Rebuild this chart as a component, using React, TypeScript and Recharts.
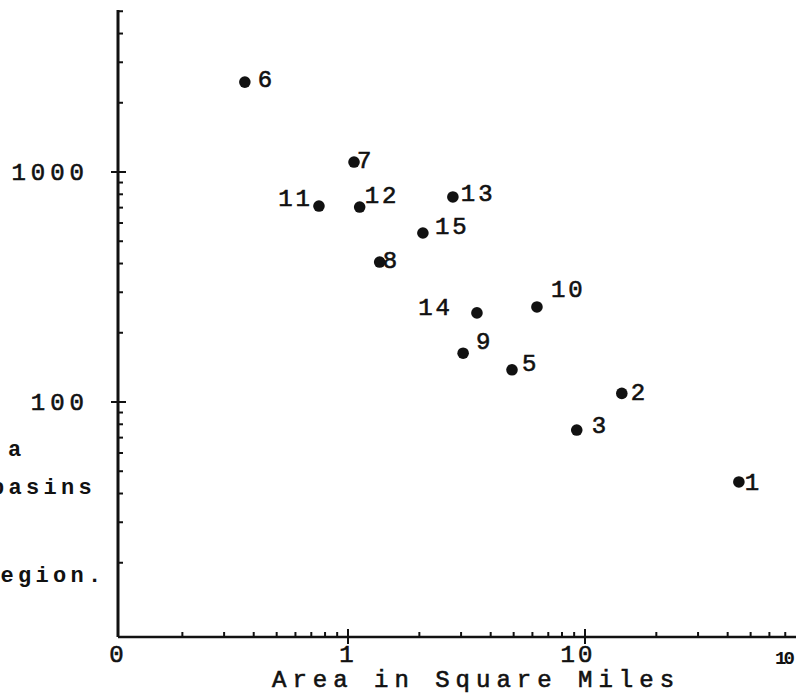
import React from 'react';
import { ScatterChart, Scatter, XAxis, YAxis } from 'recharts';

// basin numbers, drainage area (sq mi) and the plotted value
const basinIds = [1, 2, 3, 5, 6, 7, 8, 9, 10, 11, 12, 13, 14, 15];
const areaSqMi = [44.6, 14.3, 9.23, 4.92, 0.367, 1.06, 1.36, 3.06, 6.27, 0.754, 1.12, 2.77, 3.5, 2.07];
const peakValues = [44.9, 109, 75.5, 138, 2460, 1105, 406, 163, 259, 711, 704, 779, 244, 543];

const xTicks = [0.107, 0.2, 0.3, 0.4, 0.5, 0.6, 0.7, 0.8, 0.9, 1, 2, 3, 4, 5, 6, 7, 8, 9, 10, 20, 30, 40, 50, 60, 70];
const xTickLabels: Record<number, string> = { 0.107: '0', 1: '1', 10: '10' };
const yTicks = [20, 30, 40, 50, 60, 70, 80, 90, 100, 200, 300, 400, 500, 600, 700, 800, 900, 1000, 2000, 3000, 4000, 5000];
const yTickLabels: Record<number, string> = { 100: '100', 1000: '1000' };

const X_DOMAIN = [0.107, 77.7];
const Y_DOMAIN = [9.51, 5063];

// where each number sits next to its dot
const labelOffsets: Record<number, { dx: number; dy: number; anchor?: string }> = {
  1: { dx: 6, dy: 0 },
  2: { dx: 9, dy: -1 },
  3: { dx: 15, dy: -5 },
  5: { dx: 10, dy: -7 },
  6: { dx: 13, dy: -3 },
  7: { dx: 3, dy: -2 },
  8: { dx: 3, dy: -2 },
  9: { dx: 13, dy: -12 },
  10: { dx: 14, dy: -18 },
  11: { dx: -6, dy: -8, anchor: 'end' },
  12: { dx: 5, dy: -12 },
  13: { dx: 8, dy: -4 },
  14: { dx: -24, dy: -6, anchor: 'end' },
  15: { dx: 12, dy: -7 },
};

const ink = '#111';
const mono = '"Liberation Mono", "DejaVu Sans Mono", monospace';

const points = basinIds.map((id, i) => ({ id, area: areaSqMi[i], value: peakValues[i] }));

const XTick = (props: any) => {
  const { x, y, payload } = props;
  const v = payload.value;
  const label = xTickLabels[v];
  const major = v === 1 || v === 10;
  return (
    <g>
      {v !== X_DOMAIN[0] && (
        <line x1={x} x2={x} y1={y + (major ? 7 : 0)} y2={y - (major ? 8 : 5)} stroke={ink} strokeWidth={2} />
      )}
      {label && (
        <text
          x={x + (v === 10 ? -7 : 0)}
          y={y + 25}
          textAnchor="middle"
          fontFamily={mono}
          fontSize={24}
          letterSpacing={3}
          fill={ink}
          stroke={ink}
          strokeWidth={0.6}
        >
          {label}
        </text>
      )}
    </g>
  );
};

const YTick = (props: any) => {
  const { x, y, payload } = props;
  const v = payload.value;
  const label = yTickLabels[v];
  return (
    <g>
      <line x1={x - (label ? 7 : 0)} x2={x + (label ? 8 : 5)} y1={y} y2={y} stroke={ink} strokeWidth={2} />
      {label && (
        <text
          x={x - 29}
          y={y + 8}
          textAnchor="end"
          fontFamily={mono}
          fontSize={24}
          letterSpacing={5}
          fill={ink}
          stroke={ink}
          strokeWidth={0.6}
        >
          {label}
        </text>
      )}
    </g>
  );
};

const Dot = (props: any) => {
  const { cx, cy, payload } = props;
  const off = labelOffsets[payload.id] || { dx: 8, dy: 0 };
  return (
    <g>
      <circle cx={cx} cy={cy} r={5.8} fill={ink} />
      <text
        x={cx + off.dx}
        y={cy + off.dy + 8}
        textAnchor={off.anchor || 'start'}
        fontFamily={mono}
        fontSize={24}
        letterSpacing={3}
        fill={ink}
        stroke={ink}
        strokeWidth={0.6}
      >
        {payload.id}
      </text>
    </g>
  );
};

const sideText: React.CSSProperties = {
  position: 'absolute',
  fontFamily: mono,
  fontSize: 22,
  letterSpacing: 4.3,
  fontWeight: 'bold',
  color: ink,
  whiteSpace: 'nowrap',
  lineHeight: '22px',
};

export default function App() {
  return (
    <div style={{ position: 'absolute', left: 0, top: 0, width: 796, height: 696, background: '#fff', overflow: 'hidden' }}>
      <ScatterChart width={796} height={696} margin={{ top: 10, right: 0, bottom: 0, left: 0 }}>
        <XAxis
          type="number"
          dataKey="area"
          scale="log"
          domain={X_DOMAIN}
          allowDataOverflow
          ticks={xTicks}
          interval={0}
          tick={<XTick />}
          tickSize={0}
          tickMargin={0}
          tickLine={false}
          height={59}
          axisLine={{ stroke: ink, strokeWidth: 2.5 }}
        />
        <YAxis
          type="number"
          dataKey="value"
          scale="log"
          domain={Y_DOMAIN}
          allowDataOverflow
          ticks={yTicks}
          interval={0}
          tick={<YTick />}
          tickSize={0}
          tickMargin={0}
          tickLine={false}
          width={118}
          axisLine={{ stroke: ink, strokeWidth: 3 }}
        />
        <Scatter data={points} shape={<Dot />} isAnimationActive={false} />
      </ScatterChart>
      <div style={{ ...sideText, left: 8, top: 440 }}>a</div>
      <div style={{ ...sideText, left: -9, top: 478 }}>basins</div>
      <div style={{ ...sideText, left: -17, top: 566 }}>region.</div>
      <div
        style={{
          position: 'absolute',
          left: 272,
          top: 668,
          fontFamily: mono,
          fontSize: 24,
          letterSpacing: 6,
          color: ink,
          whiteSpace: 'nowrap',
          lineHeight: '26px',
          WebkitTextStroke: '0.6px #111',
        }}
      >
        Area in Square Miles
      </div>
      <div
        style={{
          position: 'absolute',
          left: 775,
          top: 648,
          fontFamily: mono,
          fontSize: 19,
          letterSpacing: -3,
          fontWeight: 'bold',
          color: ink,
        }}
      >
        10
      </div>
    </div>
  );
}
